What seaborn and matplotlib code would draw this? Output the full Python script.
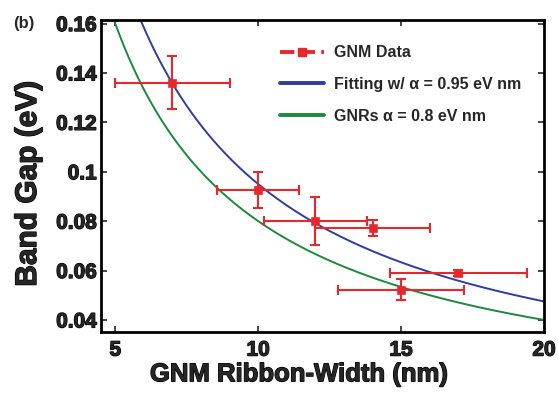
import numpy as np
import pandas as pd
import matplotlib
matplotlib.use("Agg")
import matplotlib.pyplot as plt
import matplotlib.patheffects as pe
from matplotlib.lines import Line2D
import seaborn as sns

# ---- data ----
width_nm = [7, 10, 12, 14, 17, 15]
band_gap = [0.136, 0.0927, 0.080, 0.0772, 0.0589, 0.0523]
width_err = [2.0, 1.43, 1.8, 2.0, 2.4, 2.2]
gap_err = [0.0107, 0.0073, 0.0098, 0.0033, 0.0012, 0.0043]

alpha_fit = 0.95   # eV nm, fitting
alpha_gnr = 0.8    # eV nm, GNRs

x_ticks = [5, 10, 15, 20]
y_ticks = [0.04, 0.06, 0.08, 0.1, 0.12, 0.14, 0.16]
y_ticklabels = ["0.04", "0.06", "0.08", "0.1", "0.12", "0.14", "0.16"]

legend_labels = ["GNM Data", "Fitting w/ \u03b1 = 0.95 eV nm", "GNRs \u03b1 = 0.8 eV nm"]

RED = "#e8262c"
BLUE = "#2e3d9e"
GREEN = "#1c8a3c"

sns.set_style("white")
plt.rcParams["font.family"] = ["Liberation Sans", "DejaVu Sans"]

fig = plt.figure(figsize=(5.58, 3.97), dpi=100)
ax = fig.add_axes([0.181, 0.163, 0.794, 0.787])

w_grid = np.linspace(4.5, 20, 400)
curves = pd.DataFrame({
    "w": np.concatenate([w_grid, w_grid]),
    "gap": np.concatenate([alpha_fit / w_grid, alpha_gnr / w_grid]),
    "kind": [legend_labels[1]] * len(w_grid) + [legend_labels[2]] * len(w_grid),
})
sns.lineplot(data=curves, x="w", y="gap", hue="kind",
             palette=[BLUE, GREEN], lw=1.4, ax=ax, legend=False)

ax.errorbar(width_nm, band_gap, xerr=width_err, yerr=gap_err, fmt="none",
            ecolor=RED, elinewidth=1.5, capsize=3.5, capthick=1.5, zorder=4)
pts = pd.DataFrame({"w": width_nm, "gap": band_gap})
sns.scatterplot(data=pts, x="w", y="gap", color=RED, marker="s", s=30,
                edgecolor=RED, ax=ax, zorder=5, legend=False)

heavy = [pe.withStroke(linewidth=0.9, foreground="black")]

ax.set_xlim(4.5, 20)
ax.set_ylim(0.035, 0.1615)
ax.set_xticks(x_ticks)
ax.set_xticklabels([str(t) for t in x_ticks], fontsize=15, fontweight="bold")
ax.set_yticks(y_ticks)
ax.set_yticklabels(y_ticklabels, fontsize=15, fontweight="bold")
ax.tick_params(direction="in", length=4, width=1.2, top=True, right=True,
               bottom=True, left=True)
ax.tick_params(axis="x", pad=6)
ax.tick_params(axis="y", pad=3)
for t in ax.get_xticklabels() + ax.get_yticklabels():
    t.set_path_effects(heavy)
for sp in ax.spines.values():
    sp.set_linewidth(2)
    sp.set_color("black")
    sp.set_visible(True)

ax.set_xlabel("GNM Ribbon-Width (nm)", fontsize=18.5, fontweight="bold",
              path_effects=heavy)
ax.set_ylabel("Band Gap (eV)", fontsize=21.5, fontweight="bold",
              path_effects=heavy)
ax.xaxis.set_label_coords(0.447, -0.096)
ax.yaxis.set_label_coords(-0.133, 0.475)

handles = [
    Line2D([0], [0], color=RED, ls="--", lw=2.8, marker="s", ms=6),
    Line2D([0], [0], color=BLUE, lw=2.8),
    Line2D([0], [0], color=GREEN, lw=2.8),
]
leg = ax.legend(handles, legend_labels, loc="upper left",
                bbox_to_anchor=(0.371, 0.965), frameon=False,
                prop={"size": 11.5, "weight": "bold"}, handlelength=2.8,
                labelspacing=1.05, handletextpad=0.6)

fig.text(0.023, 0.93, "(b)", fontsize=12, fontweight="bold")

fig.savefig("out.png", dpi=100)
